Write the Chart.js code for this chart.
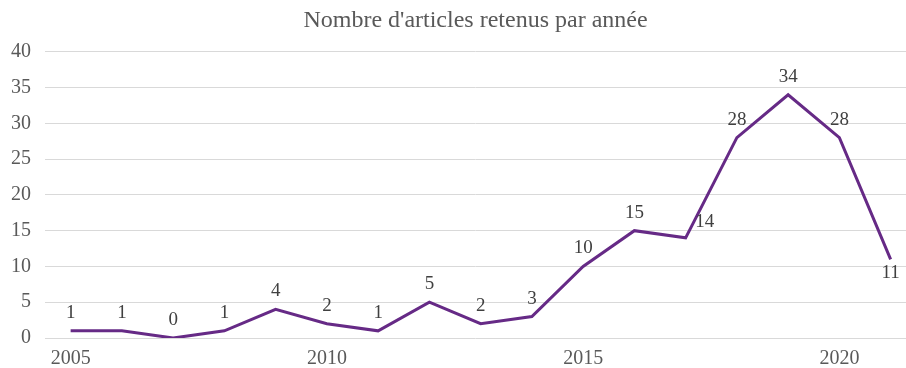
<!DOCTYPE html>
<html>
<head>
<meta charset="utf-8">
<script src="https://cdn.jsdelivr.net/npm/chart.js@4"></script>
<style>
  html, body { margin: 0; padding: 0; background: #fff; }
  #wrap { width: 906px; height: 368px; }
</style>
</head>
<body>
<div id="wrap"><canvas id="myChart" width="906" height="368"></canvas></div>
<script>
const years = [2005, 2006, 2007, 2008, 2009, 2010, 2011, 2012, 2013, 2014, 2015, 2016, 2017, 2018, 2019, 2020, 2021];
const counts = [1, 1, 0, 1, 4, 2, 1, 5, 2, 3, 10, 15, 14, 28, 34, 28, 11];
const xTickYears = [2005, 2010, 2015, 2020];
const yTicks = [0, 5, 10, 15, 20, 25, 30, 35, 40];

// where the value label goes, by year (default: above the point)
const labelSide = { 2017: 'right', 2021: 'below' };

const serif = '"Liberation Serif", "Times New Roman", serif';

const pointLabels = {
    id: 'pointLabels',
    afterDatasetsDraw(chart) {
        let ctx = chart.ctx;
        let meta = chart.getDatasetMeta(0);
        ctx.save();
        ctx.font = '19px ' + serif;
        ctx.fillStyle = '#404040';
        ctx.textAlign = 'center';
        ctx.textBaseline = 'middle';
        meta.data.forEach((pt, i) => {
            let side = labelSide[years[i]];
            let x = pt.x, y = pt.y - 18;
            if (side === 'right') { x = pt.x + 19; y = pt.y - 16; }
            if (side === 'below') { y = pt.y + 14; }
            ctx.fillText(String(counts[i]), x, y);
        });
        ctx.restore();
    }
};

let data = years.map((yr, i) => ({ x: yr, y: counts[i] }));

let ctx = document.getElementById('myChart').getContext('2d');
let myChart = new Chart(ctx, {
    type: 'line',
    data: {
        datasets: [{
            label: "Nombre d'articles",
            data: data,
            fill: false,
            borderColor: '#662a86',
            borderWidth: 3,
            pointRadius: 0,
            tension: 0
        }]
    },
    options: {
        responsive: false,
        animation: false,
        layout: { padding: { left: 0, right: 0, top: 0, bottom: 0 } },
        plugins: {
            legend: { display: false },
            tooltip: { enabled: false },
            title: {
                display: true,
                fullSize: false,
                text: "Nombre d'articles retenus par année",
                color: '#595959',
                font: { family: serif, size: 24, weight: 'normal' },
                padding: { top: 6, bottom: 17 }
            }
        },
        scales: {
            x: {
                type: 'linear',
                min: 2004.5,
                max: 2021.3,
                afterBuildTicks: scale => { scale.ticks = xTickYears.map(v => ({ value: v })); },
                afterFit: scale => { scale.height = 30; },
                grid: { display: false, drawTicks: false },
                border: { display: false },
                ticks: {
                    color: '#595959',
                    font: { family: serif, size: 20 },
                    padding: 9,
                    maxRotation: 0,
                    callback: v => String(v)
                }
            },
            y: {
                min: 0,
                max: 40,
                afterBuildTicks: scale => { scale.ticks = yTicks.map(v => ({ value: v })); },
                afterFit: scale => { scale.width = 45; },
                grid: { color: '#d9d9d9', lineWidth: 1, drawTicks: false },
                border: { display: false },
                ticks: {
                    color: '#595959',
                    font: { family: serif, size: 20 },
                    padding: 14
                }
            }
        }
    },
    plugins: [pointLabels]
});
</script>
</body>
</html>
